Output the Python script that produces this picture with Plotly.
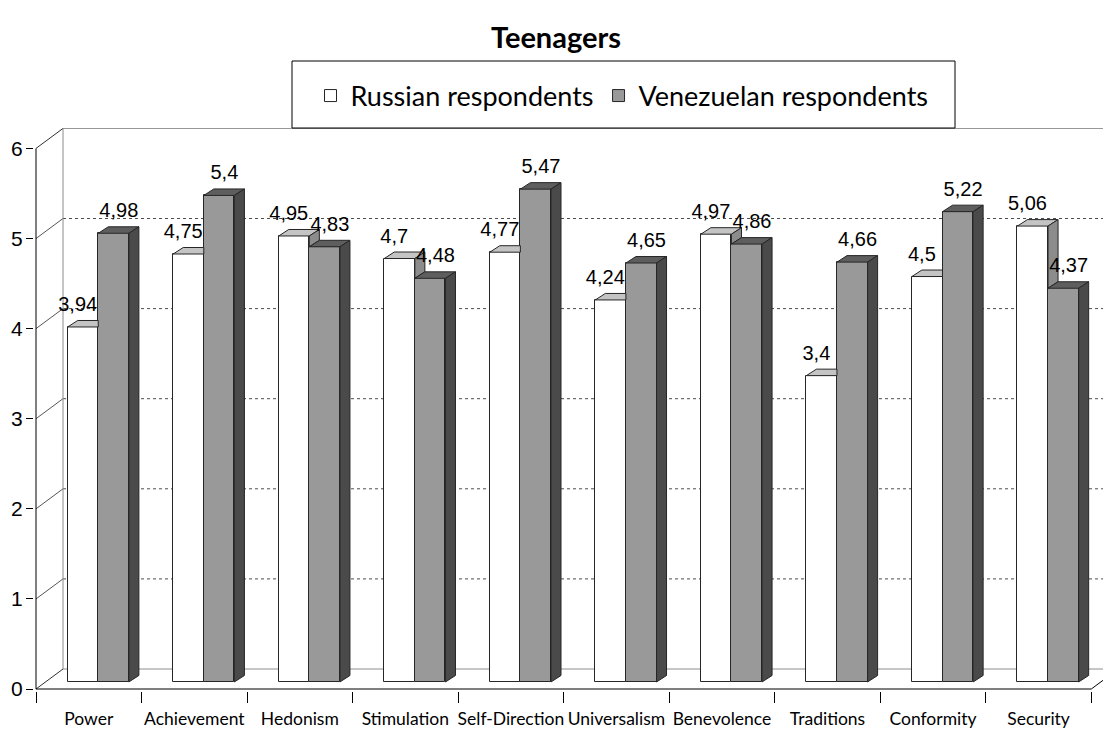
import plotly.graph_objects as go

# ---------------- data ----------------
categories = ["Power", "Achievement", "Hedonism", "Stimulation", "Self-Direction",
              "Universalism", "Benevolence", "Traditions", "Conformity", "Security"]
russian = [3.94, 4.75, 4.95, 4.70, 4.77, 4.24, 4.97, 3.40, 4.50, 5.06]
venezuelan = [4.98, 5.40, 4.83, 4.48, 5.47, 4.65, 4.86, 4.66, 5.22, 4.37]
series_names = ["Russian respondents", "Venezuelan respondents"]
y_ticks = [0, 1, 2, 3, 4, 5, 6]
title_text = "Teenagers"

# ---------------- 3D geometry (axis units) ----------------
WALL_DX, WALL_DY = 0.256, 0.222     # depth of the floor / back wall
BAR_DX, BAR_DY = 0.09, 0.078        # bar front plane offset
DEP_DX, DEP_DY = 0.095, 0.072       # bar depth
BAR_W = 0.29
LABEL_GAP = 0.05
LABEL_SPREAD = 0.05
N = len(categories)
YMAX = y_ticks[-1]

PAGE = 8                      # default body margin of the html page
W, H = 1111 - PAGE, 731 - PAGE
AX_X, AX_Y = 36 - PAGE, 689 - PAGE   # front-axis origin in figure pixels
ML, MR, MT, MB = AX_X - 2, 0, 128 - PAGE, H - (AX_Y + 2)
PX_X, PX_Y = 105.53, 90.1
x_lo = -(AX_X - ML) / PX_X
x_hi = x_lo + (W - ML - MR) / PX_X
y_lo = -((H - MB) - AX_Y) / PX_Y
y_hi = y_lo + (H - MT - MB) / PX_Y
pw, ph = W - ML - MR, H - MT - MB

def px_to_paper_x(px):
    return (px - PAGE - ML) / pw

def px_to_paper_y(py):
    return ((H - MB) - (py - PAGE)) / ph

C_R_FRONT, C_R_TOP, C_R_SIDE = "#ffffff", "#c4c4c4", "#8c8c8c"
C_V_FRONT, C_V_TOP, C_V_SIDE = "#999999", "#5e5e5e", "#4a4a4a"
EDGE = "#262626"
CAL = "Lato, Open Sans, sans-serif"
ARIAL = "Liberation Sans, Arial, sans-serif"

def fmt(v):
    return f"{v:g}".replace(".", ",")

xr = [i + 0.5 + BAR_DX - BAR_W / 2 for i in range(N)]
xv = [i + 0.5 + BAR_DX + BAR_W / 2 for i in range(N)]

fig = go.Figure()

# front faces (bars)
fig.add_trace(go.Bar(x=xr, y=russian, base=BAR_DY, width=BAR_W, name=series_names[0],
                     marker=dict(color=C_R_FRONT, line=dict(color=EDGE, width=1)),
                     hoverinfo="skip"))
fig.add_trace(go.Bar(x=xv, y=venezuelan, base=BAR_DY, width=BAR_W, name=series_names[1],
                     marker=dict(color=C_V_FRONT, line=dict(color=EDGE, width=1)),
                     hoverinfo="skip"))

def poly_trace(xs, ys, color):
    return go.Scatter(x=xs, y=ys, mode="lines", fill="toself", fillcolor=color,
                      line=dict(color=EDGE, width=1), showlegend=False, hoverinfo="skip")

# Russian top & side faces (clipped behind the Venezuelan bar)
rt_x, rt_y, rs_x, rs_y = [], [], [], []
for i in range(N):
    t_r = BAR_DY + russian[i]
    t_v = BAR_DY + venezuelan[i]
    l = xr[i] - BAR_W / 2
    r = xr[i] + BAR_W / 2
    if t_r > t_v:
        rt_x += [l, r, r + DEP_DX, l + DEP_DX, l, None]
        rt_y += [t_r, t_r, t_r + DEP_DY, t_r + DEP_DY, t_r, None]
        rs_x += [r, r + DEP_DX, r + DEP_DX, r, r, None]
        rs_y += [t_v, t_v + DEP_DY, t_r + DEP_DY, t_r, t_v, None]
    else:
        rt_x += [l, r, r, l + DEP_DX, l, None]
        rt_y += [t_r, t_r, t_r + DEP_DY, t_r + DEP_DY, t_r, None]
fig.add_trace(poly_trace(rt_x, rt_y, C_R_TOP))
fig.add_trace(poly_trace(rs_x, rs_y, C_R_SIDE))

# Venezuelan top & side faces
vt_x, vt_y, vs_x, vs_y = [], [], [], []
for i in range(N):
    t_v = BAR_DY + venezuelan[i]
    l = xv[i] - BAR_W / 2
    r = xv[i] + BAR_W / 2
    vt_x += [l, r, r + DEP_DX, l + DEP_DX, l, None]
    vt_y += [t_v, t_v, t_v + DEP_DY, t_v + DEP_DY, t_v, None]
    vs_x += [r, r + DEP_DX, r + DEP_DX, r, r, None]
    vs_y += [BAR_DY, BAR_DY + DEP_DY, t_v + DEP_DY, t_v, BAR_DY, None]
fig.add_trace(poly_trace(vt_x, vt_y, C_V_TOP))
fig.add_trace(poly_trace(vs_x, vs_y, C_V_SIDE))

# value labels
lab_font = dict(family=ARIAL, size=20, color="#000000")
for xs, vals, shift in ((xr, russian, -LABEL_SPREAD), (xv, venezuelan, LABEL_SPREAD)):
    fig.add_trace(go.Scatter(x=[x + shift for x in xs],
                             y=[BAR_DY + v + DEP_DY + LABEL_GAP for v in vals],
                             mode="text", text=[fmt(v) for v in vals],
                             textposition="top center", textfont=lab_font,
                             showlegend=False, hoverinfo="skip", cliponaxis=False))

# ---------------- walls, floor, axis lines ----------------
shapes = []
def seg(x0, y0, x1, y1, color, width=1, dash="solid"):
    shapes.append(dict(type="line", xref="x", yref="y", x0=x0, y0=y0, x1=x1, y1=y1,
                       line=dict(color=color, width=width, dash=dash), layer="below"))

for v in y_ticks[1:-1]:
    seg(WALL_DX, v + WALL_DY, N + WALL_DX, v + WALL_DY, "#4d4d4d", 1, "dot")
for v in y_ticks:
    seg(0, v, WALL_DX, v + WALL_DY, "#555555" if 0 < v < YMAX else "#303030")
seg(WALL_DX, YMAX + WALL_DY, N + WALL_DX, YMAX + WALL_DY, "#8c8c8c")
seg(WALL_DX, WALL_DY, WALL_DX, YMAX + WALL_DY, "#8c8c8c")
seg(WALL_DX, WALL_DY, N + WALL_DX, WALL_DY, "#8c8c8c")
seg(0, 0, 0, YMAX, "#000000")
seg(0, 0, N, 0, "#000000")
seg(N, 0, N + WALL_DX, WALL_DY, "#000000")

# legend box
shapes.append(dict(type="rect", xref="paper", yref="paper",
                   x0=px_to_paper_x(292), x1=px_to_paper_x(955),
                   y0=px_to_paper_y(128), y1=px_to_paper_y(61),
                   line=dict(color="#000000", width=1), fillcolor="rgba(255,255,255,0)",
                   layer="above"))

fig.update_layout(
    width=W, height=H,
    margin=dict(l=ML, r=MR, t=MT, b=MB, autoexpand=False),
    paper_bgcolor="#ffffff", plot_bgcolor="#ffffff",
    barmode="overlay", bargap=0,
    shapes=shapes,
    title=dict(text="<b>" + title_text + "</b>", x=(556 - PAGE) / W, xanchor="center",
               y=1 - (38 - PAGE) / H, yanchor="middle", yref="container",
               font=dict(family=CAL, size=29, color="#000000")),
    legend=dict(orientation="h", x=px_to_paper_x(622), xanchor="center",
                y=px_to_paper_y(96), yanchor="middle",
                bgcolor="rgba(0,0,0,0)", borderwidth=0,
                font=dict(family=CAL, size=27, color="#000000"),
                itemwidth=30),
    xaxis=dict(range=[x_lo, x_hi], showgrid=False, zeroline=False, showline=False,
               tickmode="array", tickvals=[i + 0.5 for i in range(N)], ticktext=categories,
               tickangle=0,
               ticks="outside", ticklen=12, tickcolor="rgba(0,0,0,0)",
               tickfont=dict(family=CAL, size=17.5, color="#000000"),
               minor=dict(tickmode="array", tickvals=list(range(N + 1)), ticks="outside",
                          ticklen=11, tickcolor="#000000", tickwidth=1, showgrid=False),
               fixedrange=True),
    yaxis=dict(range=[y_lo, y_hi], showgrid=False, zeroline=False, showline=False,
               tickmode="array", tickvals=y_ticks, ticktext=[str(t) for t in y_ticks],
               ticks="outside", ticklen=7, tickcolor="#000000",
               ticklabelstandoff=-1,
               tickfont=dict(family=ARIAL, size=21, color="#000000"),
               fixedrange=True),
)

fig.write_html("out.html")
